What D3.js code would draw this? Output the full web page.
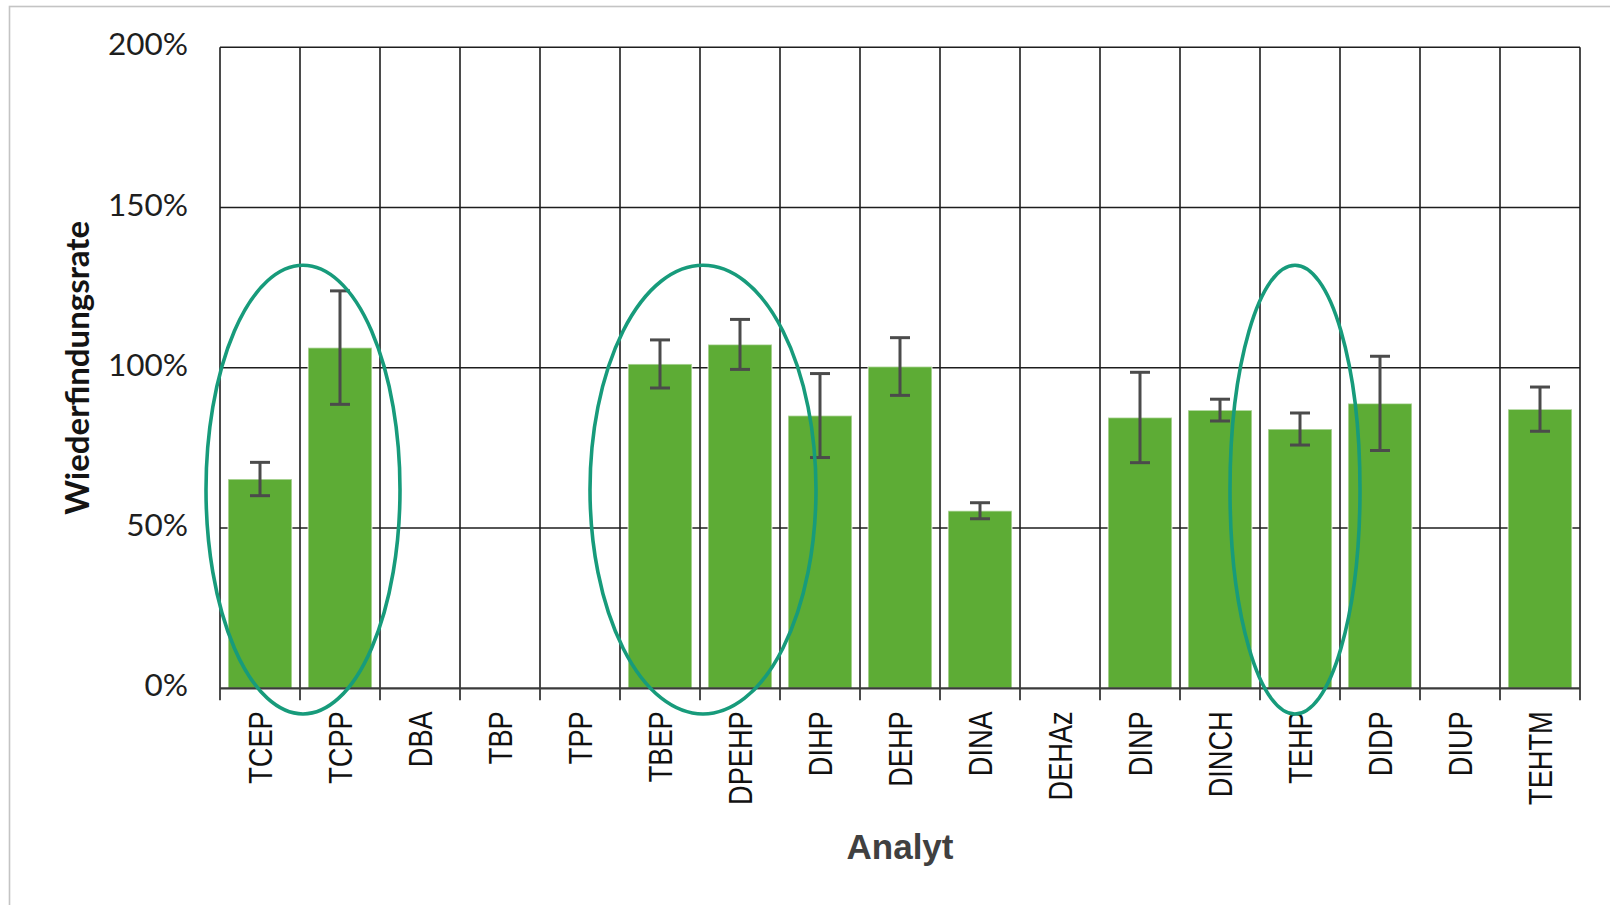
<!DOCTYPE html>
<html>
<head>
<meta charset="utf-8">
<script src="https://cdn.jsdelivr.net/npm/d3@7"></script>
<style>
  html, body { margin: 0; padding: 0; background: #ffffff; }
  svg { display: block; }
</style>
</head>
<body>
<svg id="chart" width="1610" height="905"></svg>
<script>
// Recovery rates (Wiederfindungsrate, %) per analyte with standard deviation
const analytes = ["TCEP", "TCPP", "DBA", "TBP", "TPP", "TBEP", "DPEHP", "DIHP", "DEHP",
                  "DINA", "DEHAz", "DINP", "DINCH", "TEHP", "DIDP", "DIUP", "TEHTM"];
const recovery = [65.3, 106.3, null, null, null, 101.2, 107.3, 85.1, 100.4,
                  55.4, null, 84.5, 86.8, 80.9, 88.9, null, 87.1];
const stdDev   = [5.2, 17.7, null, null, null, 7.5, 7.8, 13.1, 9.0,
                  2.5, null, 14.1, 3.4, 5.0, 14.7, null, 6.9];
const yTicks = [0, 50, 100, 150, 200];
// Analyte groups that are circled for emphasis
const highlightGroups = [["TCEP", "TCPP"], ["TBEP", "DPEHP"], ["TEHP"]];

const svg = d3.select("#chart");
const margin = { left: 220, right: 30, top: 47.3, bottom: 216.7 };
const W = 1610, H = 905;
const x0 = margin.left, x1 = W - margin.right;
const yTop = margin.top, yBot = H - margin.bottom;

const x = d3.scaleBand().domain(analytes).range([x0, x1]).paddingInner(0.2).paddingOuter(0.1);
const y = d3.scaleLinear().domain([0, 200]).range([yBot, yTop]);
const step = x.step();
const bandStart = d => x(d) - step * 0.1;

// outer frame
svg.append("rect")
  .attr("x", 9.5).attr("y", 6.5).attr("width", W).attr("height", H)
  .attr("fill", "none").attr("stroke", "#c4c4c4").attr("stroke-width", 1.6);

const grid = svg.append("g");
// horizontal gridlines
grid.selectAll("line.h").data(yTicks.filter(t => t > 0)).join("line")
  .attr("x1", x0).attr("x2", x1)
  .attr("y1", d => y(d)).attr("y2", d => y(d))
  .attr("stroke", "#1e1e1e").attr("stroke-width", 1.6);
// vertical gridlines at category boundaries (extended below as tick marks)
const bounds = analytes.map(bandStart).concat([x1]);
grid.selectAll("line.v").data(bounds).join("line")
  .attr("x1", d => d).attr("x2", d => d)
  .attr("y1", yTop).attr("y2", yBot + 12)
  .attr("stroke", "#1e1e1e").attr("stroke-width", 1.6);

// bars
const rows = analytes.map((a, i) => ({ a, v: recovery[i], e: stdDev[i] })).filter(r => r.v != null);
svg.append("g").selectAll("rect").data(rows).join("rect")
  .attr("x", d => x(d.a)).attr("width", x.bandwidth())
  .attr("y", d => y(d.v)).attr("height", d => y(0) - y(d.v))
  .attr("fill", "#5dac35")
  .attr("stroke", "#ffffff").attr("stroke-opacity", 0.55).attr("stroke-width", 1.6);

// x axis baseline
svg.append("line")
  .attr("x1", x0).attr("x2", x1).attr("y1", y(0)).attr("y2", y(0))
  .attr("stroke", "#3a3a3a").attr("stroke-width", 2.2);

// error bars
const eb = svg.append("g").attr("stroke", "#4b4b4b").attr("stroke-width", 3).attr("fill", "none");
const capHalf = 10;
rows.forEach(d => {
  const cx = x(d.a) + x.bandwidth() / 2;
  eb.append("line").attr("x1", cx).attr("x2", cx).attr("y1", y(d.v + d.e)).attr("y2", y(d.v - d.e));
  eb.append("line").attr("x1", cx - capHalf).attr("x2", cx + capHalf).attr("y1", y(d.v + d.e)).attr("y2", y(d.v + d.e));
  eb.append("line").attr("x1", cx - capHalf).attr("x2", cx + capHalf).attr("y1", y(d.v - d.e)).attr("y2", y(d.v - d.e));
});

// y tick labels
svg.append("g").selectAll("text").data(yTicks).join("text")
  .attr("x", 188).attr("y", d => y(d) + 8)
  .attr("text-anchor", "end")
  .attr("font-family", "Lato, 'Open Sans', sans-serif")
  .attr("font-size", 31.5)
  .attr("fill", "#1e1e1e")
  .text(d => d + "%");

// x tick labels (rotated, horizontally condensed)
svg.append("g").selectAll("text").data(analytes).join("text")
  .attr("transform", d => `translate(${x(d) + x.bandwidth() / 2 + 12},${yBot + 23}) rotate(-90) scale(0.8,1)`)
  .attr("text-anchor", "end")
  .attr("font-family", "'Liberation Sans', Arial, sans-serif")
  .attr("font-size", 34)
  .attr("fill", "#111")
  .text(d => d);

// axis titles
svg.append("text")
  .attr("transform", `translate(${89},${(yTop + yBot) / 2}) rotate(-90)`)
  .attr("text-anchor", "middle")
  .attr("font-family", "Lato, 'Open Sans', sans-serif")
  .attr("font-weight", "bold")
  .attr("font-size", 33)
  .attr("fill", "#141414")
  .text("Wiederfindungsrate");

svg.append("text")
  .attr("x", (x0 + x1) / 2).attr("y", 859)
  .attr("text-anchor", "middle")
  .attr("font-family", "'Liberation Sans', Arial, sans-serif")
  .attr("font-weight", "bold")
  .attr("font-size", 35)
  .attr("fill", "#404040")
  .text("Analyt");

// emphasis ellipses around selected analytes
const ellipsePad = [17, 33, 25];
const ellipseShift = [3, 3, -5];
svg.append("g").selectAll("ellipse").data(highlightGroups).join("ellipse")
  .attr("cx", (g, i) => (bandStart(g[0]) + bandStart(g[g.length - 1]) + step) / 2 + ellipseShift[i])
  .attr("rx", (g, i) => (g.length * step) / 2 + ellipsePad[i])
  .attr("cy", (y(132) + y(-8)) / 2)
  .attr("ry", (y(-8) - y(132)) / 2)
  .attr("fill", "none").attr("stroke", "#179b7b").attr("stroke-width", 3.6);
</script>
</body>
</html>
